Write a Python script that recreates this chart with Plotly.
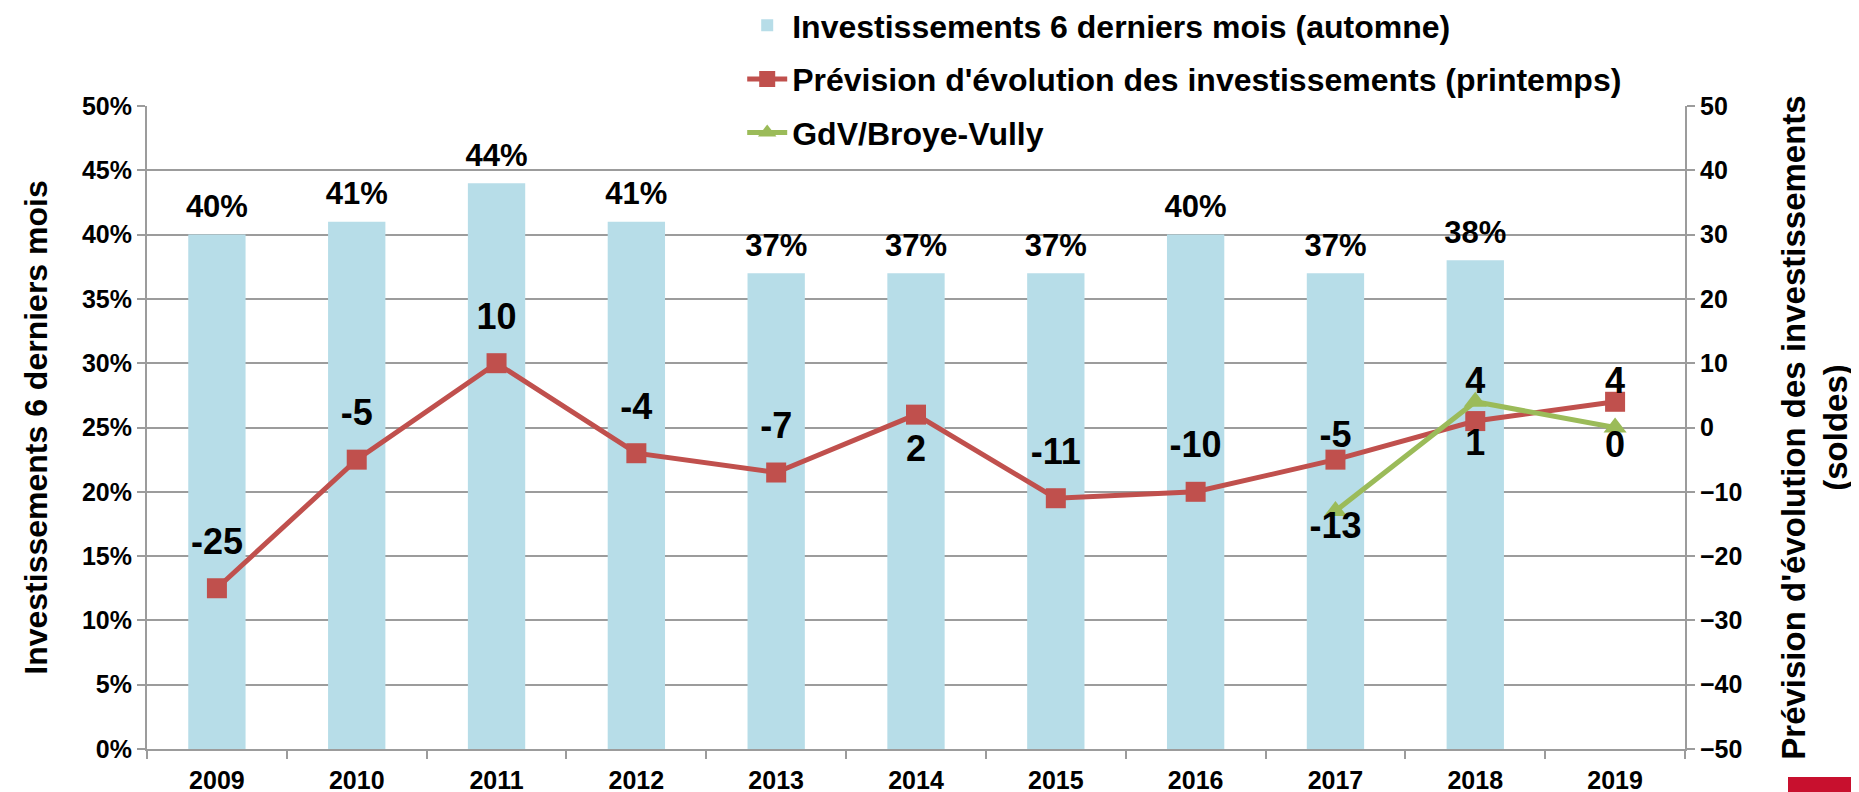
import plotly.graph_objects as go

years = ["2009", "2010", "2011", "2012", "2013", "2014", "2015", "2016", "2017", "2018", "2019"]
invest_pct = [0.40, 0.41, 0.44, 0.41, 0.37, 0.37, 0.37, 0.40, 0.37, 0.38, None]
prevision = [-25, -5, 10, -4, -7, 2, -11, -10, -5, 1, 4]
gdv_years = ["2017", "2018", "2019"]
gdv = [-13, 4, 0]

# label placement (style only)
prevision_pos = ["top center", "top center", "top center", "top center", "top center", "bottom center",
                 "top center", "top center", "top center", "bottom center", "top center"]
prevision_pad = [39, 39, 39, 39, 39, 29, 39, 39, 5, 9, 0]
gdv_pos = ["bottom center", "top center", "bottom center"]
gdv_pad = [0, 0, 3]

FONT = "Liberation Sans, Arial, sans-serif"
GRID = "#9C9C9C"

# page body has an 8px margin: plot area in figure coordinates
OFF = 8
PL, PR, PT, PB = 147 - OFF, 1685 - OFF, 105.5 - OFF, 749 - OFF
W, H = 1859, 792
PW, PH = PR - PL, PB - PT

fig = go.Figure()
fig.add_trace(go.Bar(
    x=years, y=invest_pct, name="Investissements 6 derniers mois (automne)",
    marker=dict(color="#B7DDE8", line=dict(width=0)),
    legendgroup="a", yaxis="y", hoverinfo="x+y",
))
fig.add_trace(go.Scatter(
    x=years, y=prevision, name="Prévision d'évolution des investissements (printemps)",
    mode="lines+markers", yaxis="y2",
    line=dict(color="#C0504D", width=5),
    marker=dict(symbol="square", size=20, color="#C0504D"),
    cliponaxis=False, legendgroup="b",
))
fig.add_trace(go.Scatter(
    x=gdv_years, y=gdv, name="GdV/Broye-Vully",
    mode="lines+markers", yaxis="y2",
    line=dict(color="#9BBB59", width=5),
    marker=dict(symbol="triangle-up", size=20, color="#9BBB59"),
    cliponaxis=False, legendgroup="c",
))
# value labels
fig.add_trace(go.Scatter(
    x=years, y=invest_pct, mode="markers+text", yaxis="y",
    marker=dict(size=14, opacity=0), showlegend=False, hoverinfo="skip",
    text=[f"{v*100:.0f}%" if v is not None else "" for v in invest_pct],
    textposition="top center", cliponaxis=False,
    textfont=dict(family=FONT, size=31, color="black", weight="bold"),
))
fig.add_trace(go.Scatter(
    x=years, y=prevision, mode="markers+text", yaxis="y2",
    marker=dict(size=prevision_pad, opacity=0), showlegend=False, hoverinfo="skip",
    text=[str(v) for v in prevision], textposition=prevision_pos, cliponaxis=False,
    textfont=dict(family=FONT, size=36, color="black", weight="bold"),
))
fig.add_trace(go.Scatter(
    x=gdv_years, y=gdv, mode="markers+text", yaxis="y2",
    marker=dict(size=gdv_pad, opacity=0), showlegend=False, hoverinfo="skip",
    text=[str(v) for v in gdv], textposition=gdv_pos, cliponaxis=False,
    textfont=dict(family=FONT, size=36, color="black", weight="bold"),
))

fig.update_layout(
    width=W, height=H,
    margin=dict(l=PL, r=W - PR, t=PT, b=H - PB, autoexpand=False),
    paper_bgcolor="white", plot_bgcolor="white",
    font=dict(family=FONT, color="black"),
    bargap=0.59,
    showlegend=True,
    legend=dict(
        x=0.387, y=1.168, xanchor="left", yanchor="top",
        bgcolor="rgba(0,0,0,0)", traceorder="grouped", tracegroupgap=9,
        font=dict(family=FONT, size=32, color="black", weight="bold"),
        itemwidth=40,
    ),
    xaxis=dict(
        type="category", range=[-0.5, 10.5], automargin=False,
        showline=True, linecolor=GRID, linewidth=2,
        ticks="outside", ticklen=8, tickcolor=GRID, tickwidth=2, tickson="boundaries",
        ticklabelstandoff=8,
        tickfont=dict(family=FONT, size=25, color="black", weight="bold"),
        showgrid=False,
    ),
    yaxis=dict(
        range=[0, 0.5], dtick=0.05, tickformat=".0%", automargin=False,
        showline=True, linecolor=GRID, linewidth=2,
        ticks="outside", ticklen=8, tickcolor=GRID, tickwidth=2,
        showgrid=True, gridcolor=GRID, gridwidth=2, zeroline=False,
        tickfont=dict(family=FONT, size=25, color="black", weight="bold"),
        title=dict(text="Investissements 6 derniers mois", standoff=25,
                   font=dict(family=FONT, size=32, color="black", weight="bold")),
    ),
    yaxis2=dict(
        range=[-50, 50], dtick=10, overlaying="y", side="right", automargin=False,
        showline=True, linecolor=GRID, linewidth=2,
        ticks="outside", ticklen=8, tickcolor=GRID, tickwidth=2,
        showgrid=False, zeroline=False,
        tickfont=dict(family=FONT, size=25, color="black", weight="bold"),
        title=dict(text="Prévision d'évolution des investissements<br>(soldes)", standoff=40,
                   font=dict(family=FONT, size=33, color="black", weight="bold")),
    ),
    shapes=[dict(type="rect", xref="paper", yref="paper",
                 x0=(1788 - OFF - PL) / PW, x1=(1859 - OFF - PL) / PW,
                 y0=(PB - (792 - OFF)) / PH, y1=(PB - (777 - OFF)) / PH,
                 fillcolor="#C8102E", line=dict(width=0), layer="above")],
)

fig.write_html("out.html")
